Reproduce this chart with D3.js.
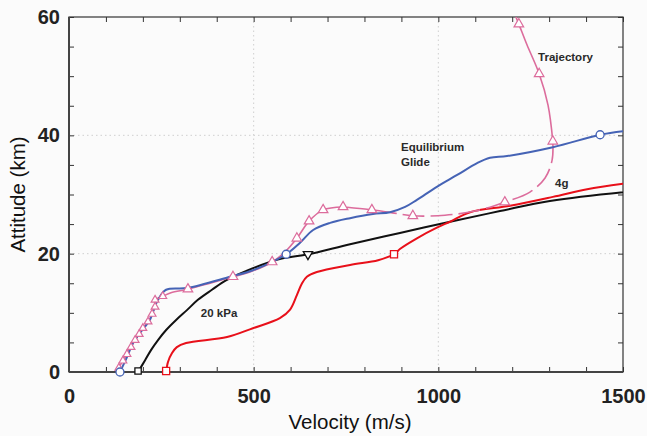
<!DOCTYPE html>
<html>
<head>
<meta charset="utf-8">
<script src="https://cdn.jsdelivr.net/npm/d3@7"></script>
<style>
  html, body { margin: 0; padding: 0; background: #fbfbfb; }
  svg { display: block; font-family: "Liberation Sans", Arial, sans-serif; }
</style>
</head>
<body>
<svg id="chart" width="647" height="436"></svg>
<script>
// Velocity (m/s), altitude (km) pairs for each curve
const trajectory = [
  [1210, 60.0], [1218, 58.8], [1240, 55.3], [1273, 50.4], [1297, 45.1], [1310, 39.0],
  [1308, 35.8], [1289, 32.8], [1248, 30.4], [1180, 28.7], [1099, 27.2], [1018, 26.5],
  [931, 26.4], [875, 26.9], [820, 27.4], [742, 27.9], [688, 27.4], [650, 25.5],
  [617, 22.6], [585, 20.3], [550, 18.6], [490, 16.9], [444, 16.1], [382, 15.0],
  [322, 14.0], [276, 13.4], [254, 12.8], [233, 12.2], [233, 11.0], [225, 9.8],
  [214, 8.5], [200, 7.4], [190, 6.4], [179, 5.4], [168, 4.2], [157, 3.0],
  [146, 1.9], [135, 0.7], [130, 0.0]
];
const trajectoryMarks = [
  [1218, 58.8], [1273, 50.4], [1310, 39.0], [1180, 28.7], [931, 26.4], [820, 27.4],
  [742, 27.9], [688, 27.4], [650, 25.5], [617, 22.6], [550, 18.6], [444, 16.1],
  [322, 14.0], [254, 12.8], [233, 12.2], [233, 11.0], [225, 9.8], [214, 8.5],
  [200, 7.4], [190, 6.4], [179, 5.4], [168, 4.2], [157, 3.0], [146, 1.9], [135, 0.7]
];
const equilibriumGlide = [
  [138, 0.0], [157, 2.5], [173, 4.9], [192, 6.6], [219, 8.8], [227, 10.1], [241, 12.2],
  [263, 13.9], [320, 14.2], [436, 16.1], [498, 17.2], [588, 19.9], [625, 21.8],
  [661, 24.0], [707, 25.2], [761, 26.0], [823, 26.7], [869, 27.0], [910, 27.9],
  [942, 29.1], [996, 31.3], [1051, 33.3], [1105, 35.3], [1140, 36.2], [1186, 36.5],
  [1310, 38.0], [1438, 40.1], [1500, 40.7]
];
const glideMarks = [[138, 0.0], [588, 19.9], [1438, 40.1]];
const dynPressure = [
  [187, 0.0], [206, 2.0], [222, 3.7], [241, 5.4], [263, 7.1], [290, 8.8], [320, 10.5],
  [349, 12.2], [387, 13.9], [425, 15.5], [485, 17.2], [544, 18.6], [585, 19.3],
  [647, 19.9], [761, 21.6], [896, 23.5], [1032, 25.4], [1167, 27.2], [1302, 28.9],
  [1500, 30.4]
];
const pressureMarks = [[187, 0.0], [647, 19.9]];
const loadLimit = [
  [263, 0.0], [268, 1.7], [279, 3.2], [292, 4.2], [317, 4.9], [428, 5.9], [498, 7.4],
  [571, 9.1], [598, 10.5], [617, 13.0], [631, 15.0], [644, 16.1], [671, 16.9],
  [761, 18.1], [837, 18.9], [880, 19.9], [896, 20.8], [942, 22.6], [996, 24.4],
  [1032, 25.4], [1086, 27.0], [1194, 28.1], [1310, 29.6], [1403, 30.9], [1500, 31.8]
];
const loadMarks = [[263, 0.0], [880, 19.9]];
const xTicks = [0, 500, 1000, 1500];
const yTicks = [0, 20, 40, 60];
const curveLabels = [
  ["Trajectory", 1270, 52.6],
  ["Equilibrium", 899, 37.3],
  ["Glide", 899, 34.8],
  ["4g", 1316, 31.3],
  ["20 kPa", 357, 9.3]
];

const svg = d3.select("#chart");
const x = d3.scaleLinear().domain([0, 1500]).range([69, 623]);
const y = d3.scaleLinear().domain([0, 60]).range([372, 17]);

svg.append("defs").append("clipPath").attr("id", "plot")
  .append("rect").attr("x", 69).attr("y", 17).attr("width", 554).attr("height", 355);

// dotted grid at the labelled values
const grid = svg.append("g").attr("stroke", "#cfcfcf").attr("stroke-width", 1).attr("stroke-dasharray", "1.5,3");
grid.selectAll("line.gx").data([500, 1000]).join("line")
  .attr("x1", d => x(d)).attr("x2", d => x(d)).attr("y1", y(60)).attr("y2", y(0));
grid.selectAll("line.gy").data([20, 40]).join("line")
  .attr("y1", d => y(d)).attr("y2", d => y(d)).attr("x1", x(0)).attr("x2", x(1500));

// minor inward ticks on all four sides
const minor = (axis, tx, ty) => svg.append("g").attr("transform", `translate(${tx},${ty})`)
  .call(axis).call(g => g.select(".domain").remove())
  .call(g => g.selectAll("line").attr("stroke", "#333"));
minor(d3.axisBottom(x).tickValues(d3.range(0, 1501, 100)).tickSize(-5).tickFormat(""), 0, y(0));
minor(d3.axisTop(x).tickValues(d3.range(0, 1501, 100)).tickSize(-5).tickFormat(""), 0, y(60));
minor(d3.axisLeft(y).tickValues(d3.range(0, 61, 5)).tickSize(-5).tickFormat(""), x(0), 0);
minor(d3.axisRight(y).tickValues(d3.range(0, 61, 5)).tickSize(-5).tickFormat(""), x(1500), 0);

// frame
svg.append("rect").attr("x", x(0)).attr("y", y(60)).attr("width", x(1500) - x(0)).attr("height", y(0) - y(60))
  .attr("fill", "none").attr("stroke", "#333").attr("stroke-width", 1.2);
svg.append("line").attr("x1", x(0)).attr("x2", x(1500)).attr("y1", y(0)).attr("y2", y(0))
  .attr("stroke", "#444").attr("stroke-width", 2);
svg.append("line").attr("x1", x(0)).attr("x2", x(0)).attr("y1", y(0)).attr("y2", y(60))
  .attr("stroke", "#444").attr("stroke-width", 2);

// tick labels
const labelAxis = (axis, tx, ty) => svg.append("g").attr("transform", `translate(${tx},${ty})`)
  .call(axis).call(g => g.select(".domain").remove())
  .call(g => g.selectAll("text").attr("font-family", "Liberation Sans, Arial, sans-serif")
    .attr("font-size", 20).attr("font-weight", "bold").attr("fill", "#222"));
labelAxis(d3.axisBottom(x).tickValues(xTicks).tickFormat(d3.format("d")).tickSize(0).tickPadding(17), 0, y(0));
labelAxis(d3.axisLeft(y).tickValues(yTicks).tickFormat(d3.format("d")).tickSize(0).tickPadding(9), x(0), 0);

svg.append("text").attr("x", 350).attr("y", 429).attr("text-anchor", "middle")
  .attr("font-size", 20.5).attr("fill", "#111").text("Velocity (m/s)");
svg.append("text").attr("transform", `translate(25,${(y(0) + y(60)) / 2}) rotate(-90)`)
  .attr("text-anchor", "middle").attr("font-size", 20.5).attr("fill", "#111").text("Attitude (km)");

const line = d3.line().x(d => x(d[0])).y(d => y(d[1])).curve(d3.curveCatmullRom.alpha(0.5));
const plot = svg.append("g").attr("clip-path", "url(#plot)");

const pink = "#dc6c9c", blue = "#4563b5", red = "#e8101a", black = "#111";

plot.append("path").attr("d", line(dynPressure)).attr("fill", "none").attr("stroke", black).attr("stroke-width", 2);
plot.append("path").attr("d", line(loadLimit)).attr("fill", "none").attr("stroke", red).attr("stroke-width", 2);

// trajectory: solid descent, dashed pull-up segment, solid final approach
const trajTop = trajectory.slice(0, 6);
const trajMid = trajectory.slice(5, 16);
const trajLow = trajectory.slice(15);
plot.append("path").attr("d", line(trajTop)).attr("fill", "none").attr("stroke", pink).attr("stroke-width", 1.6);
plot.append("path").attr("d", line(trajMid)).attr("fill", "none").attr("stroke", pink).attr("stroke-width", 1.6)
  .attr("stroke-dasharray", "22,6");
plot.append("path").attr("d", line(trajLow)).attr("fill", "none").attr("stroke", pink).attr("stroke-width", 1.6);

plot.append("path").attr("d", line(equilibriumGlide)).attr("fill", "none").attr("stroke", blue).attr("stroke-width", 2);

// markers
const tri = d3.symbol().type(d3.symbolTriangle).size(38);
svg.append("g").selectAll("path").data(trajectoryMarks).join("path")
  .attr("d", (d, i) => d3.symbol().type(d3.symbolTriangle).size(i >= 13 ? 26 : 40)())
  .attr("transform", d => `translate(${x(d[0])},${y(d[1])})`)
  .attr("fill", "#fff").attr("stroke", pink).attr("stroke-width", 1.2);
svg.append("g").selectAll("circle").data(glideMarks).join("circle")
  .attr("cx", d => x(d[0])).attr("cy", d => y(d[1])).attr("r", 4)
  .attr("fill", "#fff").attr("stroke", blue).attr("stroke-width", 1.3);
svg.append("g").selectAll("path").data(pressureMarks).join("path")
  .attr("d", (d, i) => i === 0 ? d3.symbol().type(d3.symbolSquare).size(40)() : tri())
  .attr("transform", (d, i) => `translate(${x(d[0])},${y(d[1]) - (i === 0 ? 1 : 0)}) rotate(${i === 0 ? 0 : 180})`)
  .attr("fill", "#fff").attr("stroke", black).attr("stroke-width", 1.3);
svg.append("g").selectAll("path").data(loadMarks).join("path")
  .attr("d", d3.symbol().type(d3.symbolSquare).size(50))
  .attr("transform", (d, i) => `translate(${x(d[0])},${y(d[1]) - (i === 0 ? 1 : 0)})`)
  .attr("fill", "#fff").attr("stroke", red).attr("stroke-width", 1.3);

// curve annotations
svg.append("g").selectAll("text").data(curveLabels).join("text")
  .attr("x", d => x(d[1])).attr("y", d => y(d[2]))
  .attr("font-size", 11.5).attr("font-weight", "bold").attr("fill", "#2a2a2a")
  .text(d => d[0]);
</script>
</body>
</html>
